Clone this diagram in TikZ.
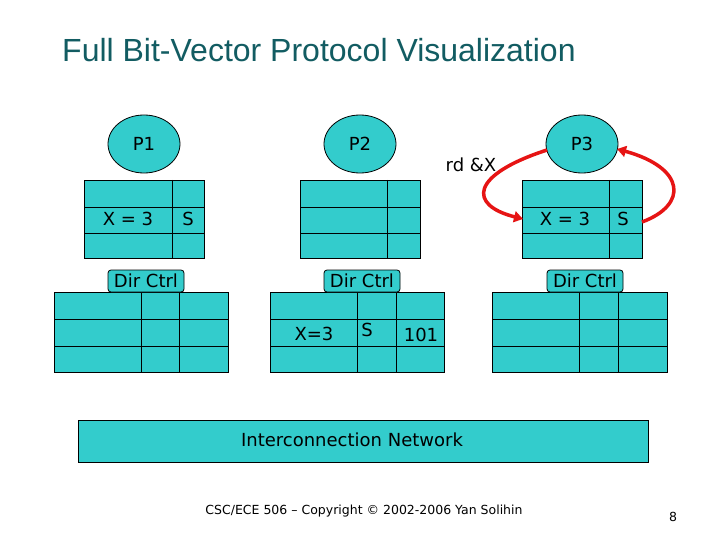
\documentclass[tikz,border=0pt]{standalone}
\usepackage{fontspec}
\setmainfont{DejaVu Sans}
\newfontfamily\titlefont{Liberation Sans}
\usetikzlibrary{shapes.geometric,arrows.meta}
\definecolor{tealfill}{RGB}{51,204,204}
\definecolor{titlecol}{RGB}{18,92,98}
\definecolor{arrred}{RGB}{230,20,20}
\tikzset{
  proc/.style={ellipse,draw=black,fill=tealfill,line width=0.8pt,minimum width=72pt,minimum height=58pt,inner sep=0pt,font=\fontsize{18}{21}\selectfont},
  tab/.style={draw=black,fill=tealfill,line width=0.8pt},
  dirlab/.style={draw=black,fill=tealfill,rounded corners=3pt,line width=0.8pt,minimum width=76pt,minimum height=22pt,inner sep=0pt,font=\fontsize{18}{21}\selectfont},
  txt/.style={font=\fontsize{18}{21}\selectfont,inner sep=0pt},
  redarrow/.style={draw=arrred,line width=3.5pt,-{Triangle[length=9pt,width=11pt]}},
}
\newcommand{\cachetbl}[4]{% name, x1, x2, xcol
  \node[tab,minimum width={#3-#2},minimum height=78pt,inner sep=0pt,anchor=north west] (#1) at (#2,180) {};
  \draw[line width=0.8pt] (#2,207) -- (#3,207) (#2,233) -- (#3,233) (#4,180) -- (#4,258);
}
\newcommand{\dirtbl}[5]{% name, x1, x2, xc1, xc2
  \node[tab,minimum width={#3-#2},minimum height=80pt,inner sep=0pt,anchor=north west] (#1) at (#2,292) {};
  \draw[line width=0.8pt] (#2,319) -- (#3,319) (#2,346) -- (#3,346) (#4,292) -- (#4,372) (#5,292) -- (#5,372);
}
\begin{document}
\begin{tikzpicture}[x=1pt,y=-1pt]
\useasboundingbox[fill=white] (0,0) rectangle (720,540);
\node[anchor=west,inner sep=0pt,font=\titlefont\fontsize{32}{36}\selectfont,text=titlecol] (title) at (62,50) {Full Bit-Vector Protocol Visualization};
% processors
\node[proc] (p1) at (144,144) {P1};
\node[proc] (p2) at (360,144) {P2};
\node[proc] (p3) at (582,144) {P3};
% caches
\cachetbl{c1}{84}{204}{172}
\cachetbl{c2}{300}{420}{387}
\cachetbl{c3}{522}{642}{609}
\node[txt] (c1x) at (128,219) {X = 3};
\node[txt] (c1s) at (188,219) {S};
\node[txt] (c3x) at (565,219) {X = 3};
\node[txt] (c3s) at (623,219) {S};
% directories
\dirtbl{d1}{54}{228}{141}{179}
\dirtbl{d2}{270}{444}{357}{396}
\dirtbl{d3}{492}{667}{579}{618}
\node[dirlab] (l1) at (146,281) {Dir Ctrl};
\node[dirlab] (l2) at (362,281) {Dir Ctrl};
\node[dirlab] (l3) at (585,281) {Dir Ctrl};
\node[txt] (d2x) at (314,334) {X=3};
\node[txt] (d2s) at (367,330) {S};
\node[txt] (d2b) at (421,335) {101};
% request label
\node[txt] (rd) at (471,165) {rd \&X};
% red arrows
\coordinate (a1s) at (547,150);
\coordinate (a1e) at (523,219);
\coordinate (a2s) at (642,222);
\coordinate (a2e) at (617,149);
\draw[redarrow] (a1s) .. controls (470,175) and (468,205) .. (a1e);
\draw[redarrow] (a2s) .. controls (688,205) and (686,168) .. (a2e);
% network
\node[tab,minimum width=570pt,minimum height=42pt,inner sep=0pt,anchor=north west] (net) at (78,420) {};
\node[inner sep=0pt,font=\fontsize{18}{21}\selectfont] (netl) at (352,440) {Interconnection Network};
% footer
\node[inner sep=0pt,font=\fontsize{12.5}{15}\selectfont] (foot) at (364,511) {CSC/ECE 506 – Copyright © 2002-2006 Yan Solihin};
\node[inner sep=0pt,font=\fontsize{12.5}{15}\selectfont] (pg) at (673,517) {8};
\end{tikzpicture}
\end{document}
